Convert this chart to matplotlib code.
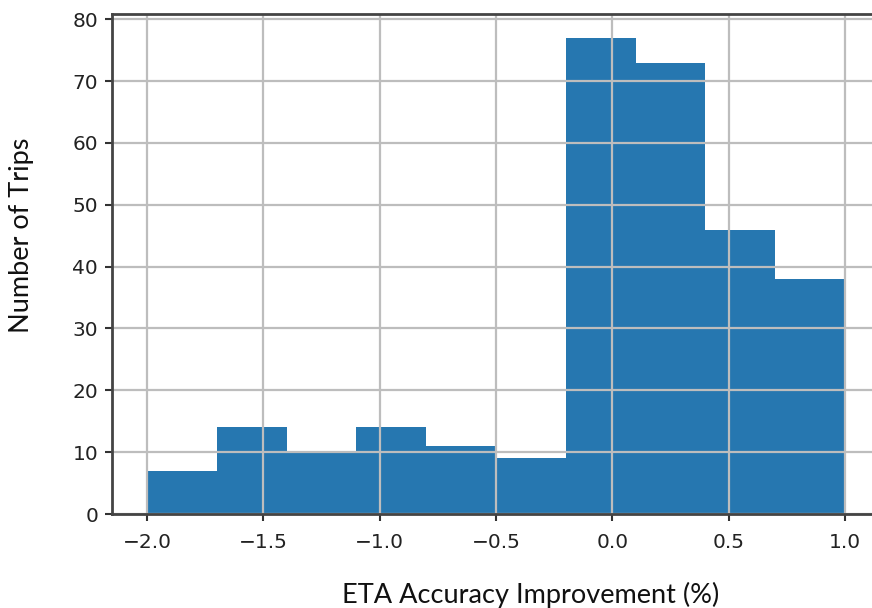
import matplotlib.pyplot as plt
import numpy as np

bin_edges = [-2.0, -1.7, -1.4, -1.1, -0.8, -0.5, -0.2, 0.1, 0.4, 0.7, 1.0]
trip_counts = [7, 14, 10, 14, 11, 9, 77, 73, 46, 38]
x_ticks = [-2.0, -1.5, -1.0, -0.5, 0.0, 0.5, 1.0]
y_ticks = [0, 10, 20, 30, 40, 50, 60, 70, 80]

fig = plt.figure(figsize=(8.72, 6.08), dpi=100)
# right edge of the axes falls just outside the picture, as in the original crop
ax = fig.add_axes([112 / 872, 1 - 514 / 608, (880 - 112) / 872, (514 - 14) / 608])

lefts = np.array(bin_edges[:-1])
widths = np.diff(bin_edges)
ax.bar(lefts, trip_counts, width=widths, align='edge', color='#2677b0')

ax.set_xlim(-2.15, 1.15)
ax.set_ylim(0, 80.85)
ax.set_xticks(x_ticks)
ax.set_xticklabels([f'{v:.1f}'.replace('-', '\u2212') for v in x_ticks])
ax.set_yticks(y_ticks)
ax.tick_params(labelsize=14.5, length=5, width=1.5, colors='#333333', labelcolor='#222222')
ax.tick_params(axis='x', pad=9)
ax.tick_params(axis='y', pad=5)
ax.grid(True, color='#bdbdbd', linewidth=1.6)
for side in ax.spines.values():
    side.set_linewidth(2)
    side.set_color('#444444')

fig.text(22 / 872, 1 - 235 / 608, 'Number of Trips', rotation=90, ha='center', va='center',
         fontsize=19.5, family='Lato', color='#111111')
fig.text(531 / 872, 1 - 595 / 608, 'ETA Accuracy Improvement (%)', ha='center', va='center',
         fontsize=19.5, family='Lato', color='#111111')

fig.savefig('out.png', dpi=100)
